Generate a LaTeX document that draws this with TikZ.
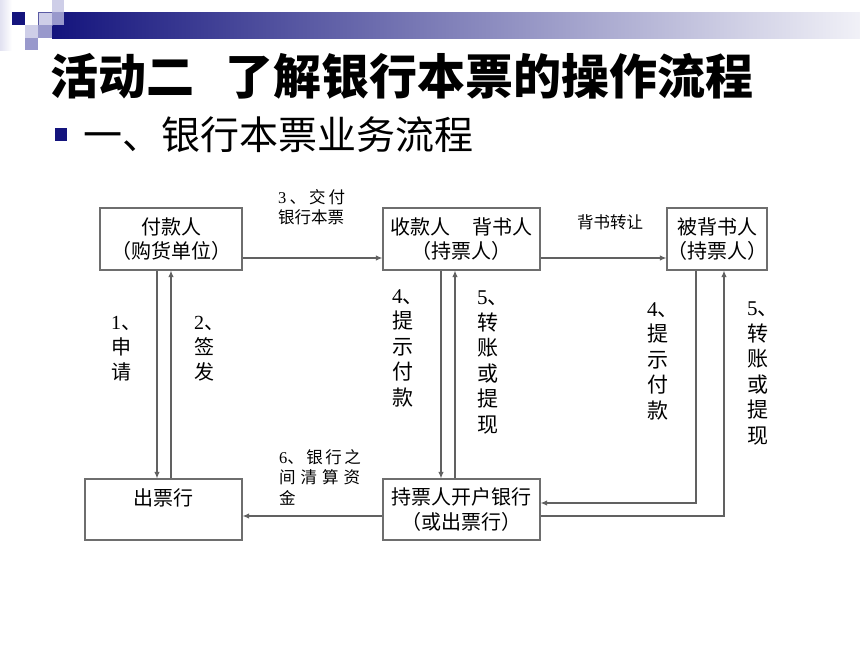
\documentclass[tikz,border=0pt]{standalone}
\usepackage{fontspec}
\setmainfont{Noto Sans CJK SC}
\newfontfamily\latn{Liberation Serif}
\usetikzlibrary{positioning,arrows.meta}
\definecolor{navy}{RGB}{20,20,125}
\definecolor{lilac}{RGB}{153,153,204}
\definecolor{pale}{RGB}{206,206,232}
\definecolor{frame}{RGB}{110,110,110}

\begin{document}
\begin{tikzpicture}[x=1pt,y=-1pt,>={Latex[length=6.5pt,width=5.5pt]}]
    \tikzstyle{every node}=[inner sep=0pt]
    \tikzstyle{box}=[draw=frame,line width=1.2pt,rectangle,align=center,font=\fontsize{20}{24.5}\selectfont]
    \tikzstyle{flow}=[draw=black!62,line width=1.1pt,->]
    \tikzstyle{note}=[align=left,anchor=north west,font=\fontsize{16.5}{20.5}\selectfont]
    \tikzstyle{vnote}=[align=left,anchor=north west,font=\fontsize{21}{25.5}\selectfont]
    \useasboundingbox (0,0) rectangle (860,645);
    % header band
    \shade[left color=pale!60,right color=white] (0,0) rectangle (12,50);
    \shade[left color=navy,right color=navy!6] (52,12) rectangle (860,38);
    \fill[navy] (12,12) rectangle (25,25);
    \filldraw[fill=pale,draw=navy!70] (38,12) rectangle (52,25);
    \fill[pale] (52,0) rectangle (64,12);
    \fill[lilac] (52,12) rectangle (64,25);
    \fill[pale] (25,25) rectangle (38,38);
    \fill[lilac] (38,25) rectangle (52,38);
    \fill[lilac] (25,38) rectangle (52,50);
    \fill[white] (38,38) rectangle (52,50);
    \node[anchor=west,font=\fontsize{48}{48}\selectfont\bfseries] (title) at (50,76) {活动二\hspace{0.65em}了解银行本票的操作流程};
    \fill[navy] (55,128) rectangle (67,141);
    \node[anchor=west,font=\fontsize{39}{39}\selectfont] (subtitle) at (83,135) {一、银行本票业务流程};
    % flow chart
    \node[box,minimum width=142,minimum height=62] (fkr) at (171,239) {付款人\\（购货单位）};
    \node[box,minimum width=157,minimum height=62] (skr) at (461.5,239) {收款人\hspace{1.1em}背书人\\（持票人）};
    \node[box,minimum width=100,minimum height=62] (bbsr) at (717,239) {被背书人\\（持票人）};
    \node[box,minimum width=157,minimum height=61] (cph) at (163.5,509.5) {出票行\\\mbox{}};
    \node[box,minimum width=157,minimum height=61] (khh) at (461.5,509.5) {持票人开户银行\\（或出票行）};
    \draw[flow] ([yshift=-19pt]fkr.east) -- ([yshift=-19pt]skr.west);
    \draw[flow] ([yshift=-19pt]skr.east) -- ([yshift=-19pt]bbsr.west);
    \draw[flow] ([xshift=-14pt]fkr.south) -- ([xshift=-14pt]fkr.south |- cph.north);
    \draw[flow] (fkr.south |- cph.north) -- (fkr.south);
    \draw[flow] ([xshift=-20.5pt]skr.south) -- ([xshift=-20.5pt]skr.south |- khh.north);
    \draw[flow] ([xshift=-6.5pt]skr.south |- khh.north) -- ([xshift=-6.5pt]skr.south);
    \draw[flow] ([xshift=-21pt]bbsr.south) |- ([yshift=6.5pt]khh.east);
    \draw[flow] ([yshift=-6.5pt]khh.east) -| ([xshift=7pt]bbsr.south);
    \draw[flow] ([yshift=-6.5pt]khh.west) -- ([yshift=-6.5pt]khh.west -| cph.east);
    \node[note] (jiaofu) at (278,189) {\makebox[67pt][s]{{\latn 3} 、 交 付}\\银行本票};
    \node[font=\fontsize{16.5}{20}\selectfont] (zhuanrang) at (610,222) {背书转让};
    \node[note] (qingsuan) at (279,449) {\makebox[81pt][s]{{\latn 6}、 银 行 之}\\\makebox[81pt][s]{间 清 算 资}\\金};
    \node[vnote,font=\fontsize{20}{25}\selectfont] (shenqing) at (111,316) {{\latn 1}、\\申\\请};
    \node[vnote,font=\fontsize{20}{25}\selectfont] (qianfa) at (194,316) {{\latn 2}、\\签\\发};
    \node[vnote] (tishiA) at (392,289) {{\latn 4}、\\提\\示\\付\\款};
    \node[vnote] (zhuanzhangA) at (477,291) {{\latn 5}、\\转\\账\\或\\提\\现};
    \node[vnote] (tishiB) at (647,302) {{\latn 4}、\\提\\示\\付\\款};
    \node[vnote] (zhuanzhangB) at (747,302) {{\latn 5}、\\转\\账\\或\\提\\现};
\end{tikzpicture}
\end{document}
